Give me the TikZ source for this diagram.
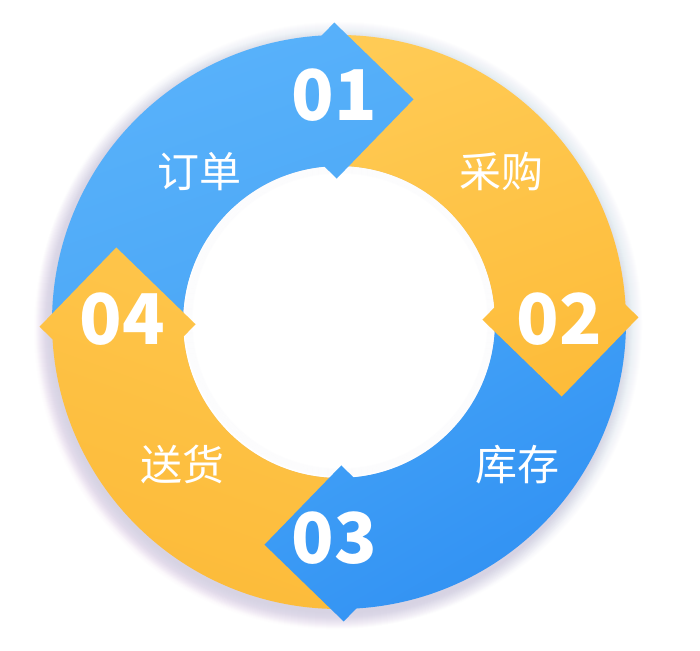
\documentclass[tikz,border=0pt]{standalone}
\usepackage{fontspec}
\newfontfamily\cjk{Noto Sans CJK SC}
\definecolor{blueA1}{HTML}{5AB3FB}
\definecolor{blueA2}{HTML}{4AA6F6}
\definecolor{blueB1}{HTML}{46A5F8}
\definecolor{blueB2}{HTML}{2F8FF2}
\definecolor{yelA1}{HTML}{FFCB55}
\definecolor{yelA2}{HTML}{FDBB38}
\definecolor{yelB1}{HTML}{FFC84F}
\definecolor{yelB2}{HTML}{FCBA38}
\definecolor{glowc}{HTML}{A8B8EE}
\definecolor{glowp}{HTML}{C58AD8}
\newcommand{\ringsector}[2]{(#1:156) arc[start angle=#1, end angle=#2, radius=156] -- (#2:287) arc[start angle=#2, end angle=#1, radius=287] -- cycle}
\newcommand{\arrowdiamond}[1]{([rotate=#1]143.5,0) -- ([rotate=#1]221.5,78) -- ([rotate=#1]299.5,0) -- ([rotate=#1]221.5,-78) -- cycle}
\tikzset{
  numtext/.style={text=white, font=\cjk\bfseries\fontsize{70}{70}\selectfont, inner sep=0pt},
  labtext/.style={text=white, font=\cjk\fontsize{42}{42}\selectfont, inner sep=0pt}
}
\begin{document}
\begin{tikzpicture}[x=1pt,y=1pt]
\useasboundingbox (0,0) rectangle (700,650);
\fill[white] (0,0) rectangle (700,650);
\begin{scope}[shift={(339,328)}, rotate=0.9]
  % outer glow
  \foreach \k in {1,...,16} {
    \fill[glowc, opacity=0.014] (0,-3) circle ({287+\k});
  }
  \foreach \k in {1,...,12} {
    \fill[glowp, opacity=0.014] (-6,-8) circle ({287+\k});
  }
  % hole
  \fill[white] (0,0) circle (156);
  \foreach \k in {1,...,8} {
    \draw[glowc, opacity=0.018, line width=1.2pt] (1,1) circle ({156-\k});
  }
  % sectors
  \begin{scope}\clip \ringsector{90}{180};
    \shade[top color=blueA1, bottom color=blueA2, shading angle=20] (-300,-20) rectangle (120,310);
  \end{scope}
  \begin{scope}\clip \ringsector{0}{90};
    \shade[top color=yelA1, bottom color=yelA2, shading angle=20] (-20,-120) rectangle (310,310);
  \end{scope}
  \begin{scope}\clip \ringsector{-90}{0};
    \shade[top color=blueB1, bottom color=blueB2, shading angle=30] (-120,-310) rectangle (310,20);
  \end{scope}
  \begin{scope}\clip \ringsector{180}{270};
    \shade[top color=yelB1, bottom color=yelB2, shading angle=-20] (-310,-310) rectangle (120,120);
  \end{scope}
  % arrow diamonds
  \begin{scope}\clip \arrowdiamond{90};
    \shade[top color=blueA1, bottom color=blueA2, shading angle=20] (-300,-20) rectangle (120,310);
  \end{scope}
  \begin{scope}\clip \arrowdiamond{0};
    \shade[top color=yelA1, bottom color=yelA2, shading angle=20] (-20,-120) rectangle (310,310);
  \end{scope}
  \begin{scope}\clip \arrowdiamond{-90};
    \shade[top color=blueB1, bottom color=blueB2, shading angle=30] (-120,-310) rectangle (310,20);
  \end{scope}
  \begin{scope}\clip \arrowdiamond{180};
    \shade[top color=yelB1, bottom color=yelB2, shading angle=-20] (-310,-310) rectangle (120,120);
  \end{scope}
\end{scope}
% numbers
\node[numtext] (n1) at (334,555) {01};
\node[numtext] (n2) at (559,331) {02};
\node[numtext] (n3) at (334,112) {03};
\node[numtext] (n4) at (122,331) {04};
% labels
\node[labtext] (l1) at (199,478) {订单};
\node[labtext] (l2) at (501,478) {采购};
\node[labtext] (l3) at (517,185) {库存};
\node[labtext] (l4) at (182,186) {送货};
\end{tikzpicture}
\end{document}
